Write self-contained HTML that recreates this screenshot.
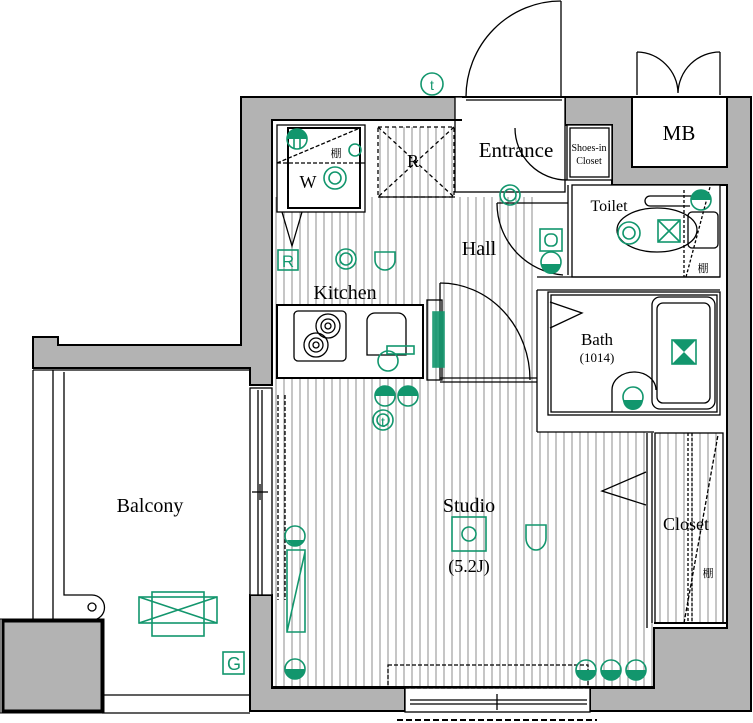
<!DOCTYPE html>
<html><head><meta charset="utf-8"><style>
html,body{margin:0;padding:0;background:#fff;}
svg{display:block;}
text{font-family:"Liberation Serif","Noto Serif CJK SC",serif;fill:#000;}
.g{stroke:#12966d;fill:none;stroke-width:1.6;}
.gt{font-family:"Liberation Sans",sans-serif;fill:#12966d;}
</style></head><body>
<svg width="753" height="723" viewBox="0 0 753 723" xmlns="http://www.w3.org/2000/svg">
<defs>
<pattern id="st" width="8" height="10" patternUnits="userSpaceOnUse">
<rect width="8" height="10" fill="#fff"/><line x1="4" y1="0" x2="4" y2="10" stroke="#8c8c8c" stroke-width="1"/>
</pattern>
</defs>
<rect x="272" y="197" width="266" height="190" fill="url(#st)"/>
<rect x="272" y="385" width="382" height="303" fill="url(#st)"/>
<rect x="538" y="385" width="116" height="47" fill="#fff"/>
<rect x="655" y="433" width="68" height="190" fill="url(#st)"/>
<rect x="378" y="127" width="76" height="70" fill="url(#st)"/>

<g fill="#b3b3b3" stroke="#000" stroke-width="2">
<path d="M241,97 H462 V120 H272 V385 H250 V368 H33 V337 H58 V345 H241 Z"/>
<path d="M565,97 H632 V167 H727 V97 H751 V711 H590 V688 H654 V628 H727 V185 H612 V125 H565 Z"/>
<path d="M250,595 H272 V688 H405 V711 H250 Z"/>
<rect x="3" y="621" width="99" height="90" stroke-width="3"/>
</g>
<rect x="0" y="619" width="104" height="94" fill="none" stroke="#000" stroke-width="1"/>

<g stroke="#000" stroke-width="1.3" fill="none">
<line x1="33" y1="370" x2="33" y2="620"/>
<line x1="53" y1="370" x2="53" y2="620"/>
<path d="M64,372 V595 H92 A12,12 0 0 1 92,620"/>
<circle cx="92" cy="607" r="4"/>
<line x1="33" y1="370" x2="250" y2="370"/>
<line x1="102" y1="695" x2="250" y2="695"/>
<line x1="102" y1="713" x2="250" y2="713"/>
<rect x="250" y="388" width="22" height="207" fill="#fff"/>
<line x1="258" y1="390" x2="258" y2="595"/><line x1="262" y1="390" x2="262" y2="595"/>
<line x1="252" y1="492" x2="268" y2="492"/><line x1="260" y1="484" x2="260" y2="500"/>
<line x1="278" y1="395" x2="278" y2="600" stroke-dasharray="4,2"/>
<line x1="285" y1="395" x2="285" y2="600" stroke-dasharray="4,2"/>
<rect x="405" y="688" width="185" height="24" fill="#fff"/>
<line x1="410" y1="700" x2="587" y2="700"/><line x1="410" y1="704" x2="587" y2="704"/>
<line x1="497" y1="694" x2="497" y2="710"/>
<rect x="388" y="665" width="200" height="23" stroke-dasharray="4,2"/>
<line x1="397" y1="720" x2="597" y2="720" stroke-dasharray="6,3" stroke-width="2"/>
<rect x="455" y="97" width="110" height="95" fill="#fff"/>
<line x1="462" y1="97" x2="565" y2="97" stroke-width="2"/>
<line x1="466" y1="100" x2="562" y2="100"/>
<line x1="561" y1="1" x2="561" y2="97"/>
<path d="M466,97 A95,96 0 0 1 561,1"/>
<path d="M515,128 A52,52 0 0 0 567,180"/>
<rect x="567" y="125" width="45" height="55" fill="#fff"/>
<rect x="570" y="128" width="39" height="49"/>
<rect x="632" y="97" width="95" height="70" fill="#fff" stroke-width="2"/>
<line x1="637" y1="52" x2="637" y2="95"/><line x1="720" y1="52" x2="720" y2="95"/>
<path d="M637,52 A42,42 0 0 1 678,93 A42,42 0 0 1 720,52"/>
<rect x="277" y="125" width="88" height="87" fill="#fff"/>
<rect x="288" y="128" width="72" height="80" stroke-width="2"/>
<line x1="277" y1="163" x2="365" y2="163" stroke-dasharray="4,2"/>
<line x1="277" y1="163" x2="360" y2="128" stroke-dasharray="4,2"/>
<path d="M282,212 L292,246 L302,212"/>
<rect x="378" y="127" width="76" height="70" stroke-dasharray="4,3"/>
<line x1="378" y1="127" x2="454" y2="197" stroke-dasharray="4,3"/>
<line x1="454" y1="127" x2="378" y2="197" stroke-dasharray="4,3"/>
<rect x="277" y="305" width="146" height="73" fill="#fff" stroke-width="2"/>
<rect x="294" y="311" width="52" height="50" rx="4"/>
<circle cx="316" cy="345" r="12"/><circle cx="316" cy="345" r="7"/><circle cx="316" cy="345" r="3"/>
<circle cx="328" cy="326" r="12"/><circle cx="328" cy="326" r="7"/><circle cx="328" cy="326" r="3"/>
<path d="M367,320 A8,8 0 0 1 375,313 H398 A8,8 0 0 1 406,320 V355 H367 Z"/>
<rect x="427" y="300" width="15" height="80"/>
<line x1="440" y1="283" x2="440" y2="380"/>
<path d="M440,283 A90,97 0 0 1 530,380"/>
<line x1="440" y1="378" x2="537" y2="378"/><line x1="440" y1="382" x2="537" y2="382"/>
<path d="M497,203 A72,72 0 0 0 563,275"/>
<line x1="497" y1="203" x2="568" y2="203"/>
<line x1="568" y1="185" x2="568" y2="275"/>
<rect x="572" y="185" width="148" height="92" fill="#fff"/>
<line x1="537" y1="277" x2="720" y2="277"/>
<path d="M695,196 H650 A5,5 0 0 0 650,206 H690"/>
<ellipse cx="657" cy="230" rx="40" ry="22"/>
<rect x="688" y="212" width="30" height="36" rx="4"/>
<line x1="686" y1="277" x2="710" y2="187" stroke-dasharray="3,2"/>
<line x1="684" y1="190" x2="684" y2="277" stroke-dasharray="3,2"/>
<rect x="548" y="292" width="172" height="123" fill="#fff"/>
<rect x="551" y="295" width="166" height="117"/>
<line x1="537" y1="290" x2="537" y2="432"/>
<line x1="537" y1="432" x2="654" y2="432"/>
<line x1="537" y1="290" x2="720" y2="290"/>
<path d="M550,302 L582,313 L550,328"/>
<rect x="652" y="297" width="63" height="112" rx="8"/>
<rect x="657" y="303" width="53" height="100" rx="6"/>
<path d="M612,412 V390 A22,18 0 0 1 656,390"/>
<rect x="655" y="433" width="68" height="190" fill="none"/>
<line x1="652" y1="433" x2="652" y2="623"/>
<line x1="647" y1="433" x2="647" y2="628"/>
<path d="M646,472 L602,491 L646,505"/>
<line x1="688" y1="433" x2="688" y2="623" stroke-dasharray="3,2"/>
<line x1="692" y1="433" x2="692" y2="623" stroke-dasharray="3,2"/>
<line x1="684" y1="623" x2="718" y2="435" stroke-dasharray="4,2"/>
<line x1="654" y1="623" x2="727" y2="623" stroke-width="2"/>
<line x1="272" y1="120" x2="462" y2="120" stroke-width="2"/>
<line x1="272" y1="687" x2="654" y2="687" stroke-width="2"/>
<line x1="378" y1="197" x2="455" y2="197"/>
</g>
<g class="g">
<circle cx="297" cy="139" r="10"/><line x1="294" y1="131" x2="294" y2="148"/><line x1="300" y1="131" x2="300" y2="148"/>
<circle cx="355" cy="150" r="6"/>
<circle cx="335" cy="178" r="11"/><circle cx="335" cy="178" r="6"/>
<rect x="278" y="250" width="20" height="20"/>
<circle cx="346" cy="259" r="10"/><circle cx="346" cy="259" r="6"/>
<path d="M375,252 H395 V260 A10,10 0 0 1 375,260 Z"/>
<circle cx="510" cy="195" r="10"/><circle cx="510" cy="195" r="6"/>
<rect x="540" y="229" width="22" height="22"/><rect x="545" y="234" width="12" height="12" rx="5"/>
<circle cx="551" cy="262" r="10"/>
<circle cx="629" cy="233" r="11"/><circle cx="629" cy="233" r="6"/>
<rect x="658" y="220" width="22" height="22"/><path d="M658,220 L680,242 M680,220 L658,242"/>
<circle cx="701" cy="200" r="10"/>
<rect x="672" y="340" width="24" height="24"/>
<circle cx="633" cy="397" r="10"/>
<rect x="433" y="312" width="11" height="55" fill="#12966d" opacity="0.9"/>
<circle cx="385" cy="396" r="10"/><circle cx="408" cy="396" r="10"/>
<circle cx="383" cy="420" r="10"/><circle cx="383" cy="420" r="6"/>
<rect x="387" y="346" width="27" height="8"/>
<circle cx="388" cy="361" r="10"/>
<rect x="452" y="517" width="34" height="34"/><circle cx="469" cy="534" r="7"/>
<path d="M526,525 H546 V538 A10,12 0 0 1 526,538 Z"/>
<circle cx="295" cy="536" r="10"/>
<path d="M287,550 H305 V632 H287 Z M287,632 L305,552"/>
<circle cx="295" cy="669" r="10"/>
<circle cx="586" cy="670" r="10"/><circle cx="611" cy="670" r="10"/><circle cx="636" cy="670" r="10"/>
<circle cx="432" cy="84" r="11"/>
<rect x="139" y="597" width="78" height="26"/><rect x="152" y="592" width="52" height="44"/>
<path d="M139,597 L217,623 M217,597 L139,623"/>
<rect x="223" y="652" width="21" height="22"/>
</g>
<g fill="#12966d">
<path d="M287,540 A10,10 0 0 0 305,540 Z"/><path d="M285,669 A10,10 0 0 0 305,669 Z"/>
<path d="M576,670 A10,10 0 0 0 596,670 Z"/><path d="M601,670 A10,10 0 0 0 621,670 Z"/><path d="M626,670 A10,10 0 0 0 646,670 Z"/>
<path d="M375,396 A10,10 0 0 1 395,396 Z"/><path d="M398,396 A10,10 0 0 1 418,396 Z"/>
<path d="M541,264 A10,10 0 0 0 561,264 Z"/><path d="M691,200 A10,10 0 0 1 711,200 Z"/><path d="M287,139 A10,10 0 0 1 307,139 Z"/>
<path d="M623,400 A10,10 0 0 0 643,400 Z"/>
<path d="M672,340 L684,352 L696,340 Z M672,364 L684,352 L696,364 Z"/>
</g>
<text x="432" y="90" class="gt" font-size="14" text-anchor="middle">t</text>
<text x="383" y="427" class="gt" font-size="14" text-anchor="middle">t</text>
<text x="288" y="267" class="gt" font-size="17" text-anchor="middle">R</text>
<text x="234" y="670" class="gt" font-size="18" text-anchor="middle">G</text>
<text x="516" y="157" font-size="21" text-anchor="middle">Entrance</text>
<text x="589" y="151" font-size="10" text-anchor="middle">Shoes-in</text>
<text x="589" y="164" font-size="10" text-anchor="middle">Closet</text>
<text x="679" y="140" font-size="21" text-anchor="middle">MB</text>
<text x="609" y="211" font-size="16" text-anchor="middle">Toilet</text>
<text x="479" y="255" font-size="20" text-anchor="middle">Hall</text>
<text x="345" y="299" font-size="20" text-anchor="middle">Kitchen</text>
<text x="597" y="345" font-size="17" text-anchor="middle">Bath</text>
<text x="597" y="362" font-size="13" text-anchor="middle">(1014)</text>
<text x="150" y="512" font-size="20" text-anchor="middle">Balcony</text>
<text x="469" y="512" font-size="20" text-anchor="middle">Studio</text>
<text x="469" y="572" font-size="18" text-anchor="middle">(5.2J)</text>
<text x="686" y="530" font-size="18" text-anchor="middle">Closet</text>
<text x="308" y="188" font-size="18" text-anchor="middle">W</text>
<text x="413" y="167" font-size="18" text-anchor="middle">R</text>
<text x="336" y="157" font-size="11" text-anchor="middle">棚</text>
<text x="703" y="272" font-size="11" text-anchor="middle">棚</text>
<text x="708" y="577" font-size="11" text-anchor="middle">棚</text>
</svg>
</body></html>
